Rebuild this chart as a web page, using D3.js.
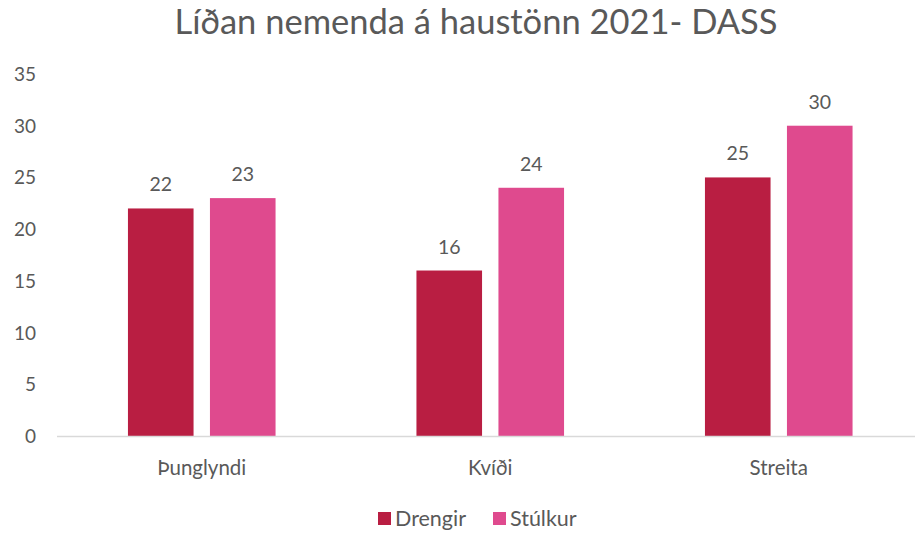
<!DOCTYPE html>
<html>
<head>
<meta charset="utf-8">
<script src="https://cdn.jsdelivr.net/npm/d3@7"></script>
<style>
  body { margin: 0; background: #fff; }
  text { font-family: Lato, "Open Sans", sans-serif; fill: #595959; }
</style>
</head>
<body>
<svg id="chart" width="915" height="533"></svg>
<script>
var categories = ["Þunglyndi", "Kvíði", "Streita"];
var seriesNames = ["Drengir", "Stúlkur"];
var drengir = [22, 16, 25];
var stulkur = [23, 24, 30];
var yTicks = [0, 5, 10, 15, 20, 25, 30, 35];
var colors = ["#B91E42", "#DF4A8E"];

var svg = d3.select("#chart"),
    width = +svg.attr("width"),
    height = +svg.attr("height");

var rows = categories.map(function (c, i) {
    return { cat: c, values: [drengir[i], stulkur[i]] };
});

var x0 = d3.scaleBand()
    .domain(categories)
    .range([57.5, 923]);

var x1 = d3.scaleBand()
    .domain(seriesNames)
    .range([x0.bandwidth() / 2 - 82, x0.bandwidth() / 2 + 82])
    .paddingInner(0.2)
    .paddingOuter(0.1);

var y = d3.scaleLinear()
    .domain([0, 35])
    .range([436, 74]);

// title
svg.append("text")
    .attr("x", 476)
    .attr("y", 34)
    .attr("text-anchor", "middle")
    .style("font-size", "34.5px")
    .text("Líðan nemenda á haustönn 2021- DASS");

// y axis labels
svg.selectAll(".ytick")
    .data(yTicks)
    .enter().append("text")
    .attr("class", "ytick")
    .attr("x", 36)
    .attr("y", function (d) { return y(d) + 7; })
    .attr("text-anchor", "end")
    .style("font-size", "19px")
    .text(function (d) { return d; });

// bars
var groups = svg.selectAll(".grp")
    .data(rows)
    .enter().append("g")
    .attr("class", "grp")
    .attr("transform", function (d) { return "translate(" + x0(d.cat) + ",0)"; });

groups.selectAll("rect")
    .data(function (d) {
        return d.values.map(function (v, i) { return { name: seriesNames[i], value: v, i: i }; });
    })
    .enter().append("rect")
    .attr("x", function (d) { return x1(d.name); })
    .attr("y", function (d) { return y(d.value); })
    .attr("width", x1.bandwidth())
    .attr("height", function (d) { return y(0) - y(d.value); })
    .attr("fill", function (d) { return colors[d.i]; });

groups.selectAll(".val")
    .data(function (d) {
        return d.values.map(function (v, i) { return { name: seriesNames[i], value: v }; });
    })
    .enter().append("text")
    .attr("class", "val")
    .attr("x", function (d) { return x1(d.name) + x1.bandwidth() / 2; })
    .attr("y", function (d) { return y(d.value) - 17; })
    .attr("text-anchor", "middle")
    .style("font-size", "19.5px")
    .text(function (d) { return d.value; });

// baseline
svg.append("line")
    .attr("x1", 57).attr("x2", width)
    .attr("y1", y(0) + 0.5).attr("y2", y(0) + 0.5)
    .attr("stroke", "#d9d9d9")
    .attr("stroke-width", 1.5);

// category labels
svg.selectAll(".cat")
    .data(categories)
    .enter().append("text")
    .attr("class", "cat")
    .attr("x", function (d) { return x0(d) + x0.bandwidth() / 2; })
    .attr("y", 475)
    .attr("text-anchor", "middle")
    .style("font-size", "20.5px")
    .text(function (d) { return d; });

// legend
var legend = svg.selectAll(".leg")
    .data(seriesNames)
    .enter().append("g")
    .attr("class", "leg")
    .attr("transform", function (d, i) { return "translate(" + (378 + i * 115) + ",512)"; });

legend.append("rect")
    .attr("width", 13).attr("height", 13)
    .attr("fill", function (d, i) { return colors[i]; });

legend.append("text")
    .attr("x", 17)
    .attr("y", 14)
    .style("font-size", "21.5px")
    .text(function (d) { return d; });
</script>
</body>
</html>
